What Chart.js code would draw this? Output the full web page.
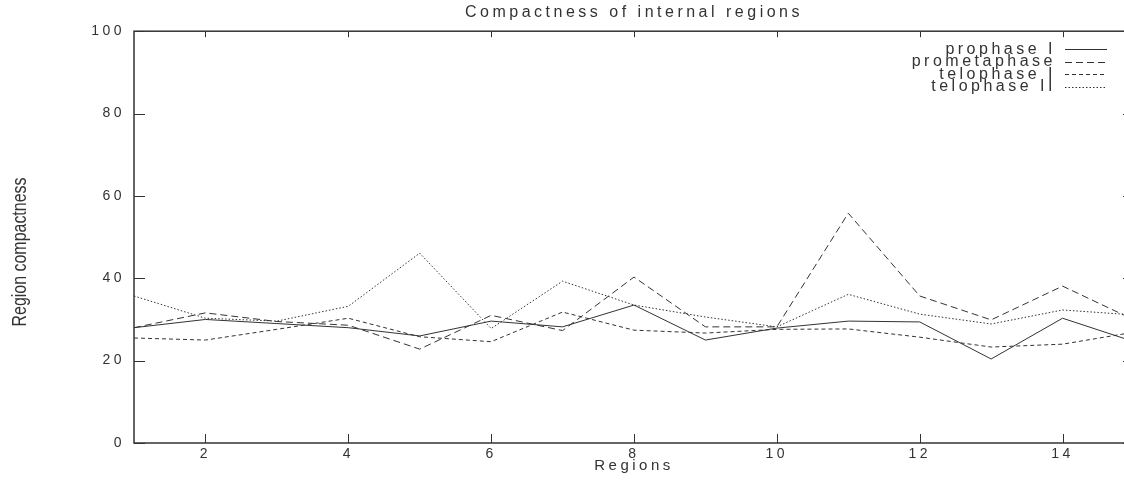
<!doctype html>
<html lang="en">
  <head>
    <meta charset="utf-8">
    <title>Compactness of internal regions</title>
    <style>
      * {
        margin: 0;
        padding: 0;
      }
      html, body {
        overflow: hidden;
        background: white;
      }
      .chartBox {
        width: 1140px;
        height: 481px;
      }
    </style>
  </head>
  <body>
    <div class="chartBox">
      <canvas id="myChart"></canvas>
    </div>
    <script src="https://cdn.jsdelivr.net/npm/chart.js/dist/chart.umd.min.js"></script>
    <script>
// setup
const regions = [1, 2, 3, 4, 5, 6, 7, 8, 9, 10, 11, 12, 13, 14, 15];
const prophaseI = [28, 30, 29, 28, 26, 29.6, 28.2, 33.5, 25, 27.9, 29.6, 29.4, 20.4, 30.3, 24.6];
const prometaphase = [28, 31.6, 29.5, 28.6, 22.8, 31, 27.3, 40.3, 28.2, 28.2, 55.8, 35.7, 29.9, 38.1, 29.9];
const telophaseI = [25.5, 25, 27.6, 30.3, 25.8, 24.6, 31.8, 27.4, 26.7, 27.6, 27.7, 25.7, 23.3, 24, 26.9];
const telophaseII = [35.7, 30.3, 29.6, 33.2, 46.1, 27.8, 39.3, 33.5, 30.6, 28.2, 36.1, 31.3, 28.9, 32.3, 31.1];

const xTicks = [2, 4, 6, 8, 10, 12, 14];
const yTicks = [0, 20, 40, 60, 80, 100];
const yTitle = 'Region compactness';

const ink = '#333';
const family = "'Liberation Sans', Arial, sans-serif";
const tickFont = { family, size: 14 };
const spacing = '3.5px';

const points = values => regions.map((r, i) => ({ x: r, y: values[i] }));

const series = (label, values, dash) => ({
  label,
  data: points(values),
  borderColor: ink,
  borderWidth: 1,
  borderDash: dash,
  pointRadius: 0,
  tension: 0,
  fill: false
});

const data = {
  datasets: [
    series('prophase I', prophaseI, []),
    series('prometaphase', prometaphase, [7, 4]),
    series('telophase I', telophaseI, [4, 3]),
    series('telophase II', telophaseII, [1.5, 2])
  ]
};

// wide gnuplot-like lettering
const letterSpacing = {
  id: 'letterSpacing',
  beforeLayout(chart) { chart.ctx.letterSpacing = spacing; },
  beforeDraw(chart) { chart.ctx.letterSpacing = spacing; }
};

// border box with inward ticks, rotated y title and the key
const frame = {
  id: 'frame',
  afterDatasetsDraw(chart) {
    const { ctx, chartArea: a, scales: { x, y } } = chart;
    ctx.save();
    ctx.strokeStyle = ink;
    ctx.lineWidth = 1;
    ctx.beginPath();
    xTicks.forEach(v => {
      const px = Math.round(x.getPixelForValue(v)) + 0.5;
      ctx.moveTo(px, a.bottom); ctx.lineTo(px, a.bottom - 9);
      ctx.moveTo(px, a.top); ctx.lineTo(px, a.top + 6);
    });
    yTicks.forEach(v => {
      const py = Math.round(y.getPixelForValue(v)) + 0.5;
      ctx.moveTo(a.left, py); ctx.lineTo(a.left + 11, py);
      ctx.moveTo(a.right, py); ctx.lineTo(a.right - 11, py);
    });
    ctx.stroke();
    ctx.lineWidth = 1.5;
    ctx.strokeRect(a.left, a.top, a.right - a.left, a.bottom - a.top);

    // key, text right aligned with the line sample after it
    ctx.font = '16px ' + family;
    ctx.fillStyle = ink;
    ctx.textAlign = 'right';
    ctx.textBaseline = 'middle';
    chart.data.datasets.forEach((ds, i) => {
      const ly = a.top + 18 + i * 12.5;
      ctx.fillText(ds.label, a.right - 78, ly);
      ctx.setLineDash(ds.borderDash);
      ctx.lineWidth = 1;
      ctx.beginPath();
      ctx.moveTo(a.right - 69, Math.round(ly) + 0.5);
      ctx.lineTo(a.right - 27, Math.round(ly) + 0.5);
      ctx.stroke();
    });
    ctx.setLineDash([]);

    // y axis title, tall and squeezed along its length
    ctx.letterSpacing = '0px';
    ctx.font = '21px ' + family;
    ctx.textAlign = 'center';
    ctx.translate(20, 252);
    ctx.rotate(-Math.PI / 2);
    ctx.scale(0.76, 1);
    ctx.fillText(yTitle, 0, 0);
    ctx.restore();
  }
};

// config
const config = {
  type: 'line',
  data,
  options: {
    responsive: true,
    maintainAspectRatio: false,
    animation: false,
    layout: { padding: { left: 0, right: 6, top: 0, bottom: 0 } },
    plugins: {
      legend: { display: false },
      tooltip: { enabled: false },
      title: {
        display: true,
        text: 'Compactness of internal regions',
        color: ink,
        fullSize: false,
        font: { family, size: 16, weight: 'normal' },
        padding: { top: 3, bottom: 9 }
      }
    },
    scales: {
      x: {
        type: 'linear',
        min: 1,
        max: 15,
        afterBuildTicks: s => { s.ticks = xTicks.map(v => ({ value: v })); },
        afterFit: s => { s.height = 38; },
        grid: { display: false, drawTicks: false },
        border: { display: false },
        ticks: { color: ink, font: tickFont, padding: 3, maxRotation: 0 },
        title: {
          display: true,
          text: 'Regions',
          color: ink,
          font: { family, size: 15 },
          padding: { top: 0, bottom: 6 }
        }
      },
      y: {
        min: 0,
        max: 100,
        afterBuildTicks: s => { s.ticks = yTicks.map(v => ({ value: v })); },
        afterFit: s => { s.width = 134; },
        grid: { display: false, drawTicks: false },
        border: { display: false },
        ticks: { color: ink, font: tickFont, padding: 9 }
      }
    }
  },
  plugins: [letterSpacing, frame]
};

// render init block
const myChart = new Chart(
  document.getElementById('myChart'),
  config
);
    </script>
  </body>
</html>
